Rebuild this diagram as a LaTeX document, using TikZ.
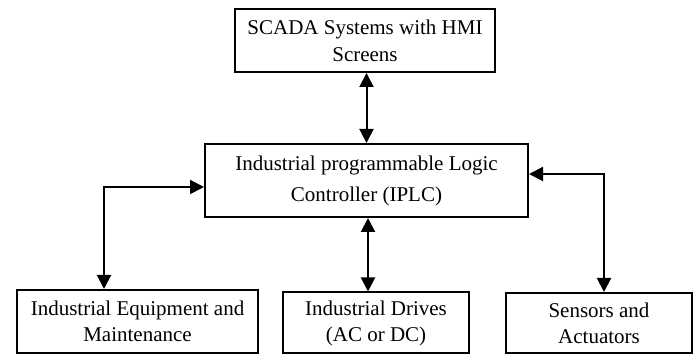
\documentclass[tikz,border=0pt]{standalone}
\usepackage{fontspec}
\setmainfont{Liberation Serif}
\usetikzlibrary{arrows.meta}
\begin{document}
\begin{tikzpicture}[x=0.5pt,y=-0.5pt,
  blk/.style={draw, line width=1pt, rectangle, align=center, inner sep=0pt,
    font=\fontsize{10.5}{13}\selectfont},
  link/.style={line width=1pt, {Triangle[length=7pt,width=7pt]}-{Triangle[length=7pt,width=7pt]}}]
\useasboundingbox (0,0) rectangle (699,356);
\node[blk, minimum width=130pt, minimum height=31.5pt] (scada) at (365,40.5)
  {SCADA Systems with HMI\\[0.5pt]Screens};
\node[blk, minimum width=161.5pt, minimum height=36.5pt] (iplc) at (366.5,180.5)
  {Industrial programmable Logic\\[2.5pt]Controller (IPLC)};
\node[blk, minimum width=120.5pt, minimum height=31.5pt] (left) at (137.5,321.5)
  {Industrial Equipment and\\Maintenance};
\node[blk, minimum width=93pt, minimum height=30.5pt] (mid) at (376,323)
  {Industrial Drives\\(AC or DC)};
\node[blk, minimum width=93pt, minimum height=30pt] (right) at (599,323)
  {Sensors and\\Actuators};
\coordinate (lc) at (104,187);
\coordinate (rc) at (604,174);
\coordinate (mc) at (368,0);
\draw[link] (scada.south -| iplc.north) -- (iplc.north);
\draw[link] (iplc.south -| mc) -- (mc |- mid.north);
\draw[link] (iplc.west |- lc) -- (lc) -- (lc |- left.north);
\draw[link] (iplc.east |- rc) -- (rc) -- (rc |- right.north);
\end{tikzpicture}
\end{document}
